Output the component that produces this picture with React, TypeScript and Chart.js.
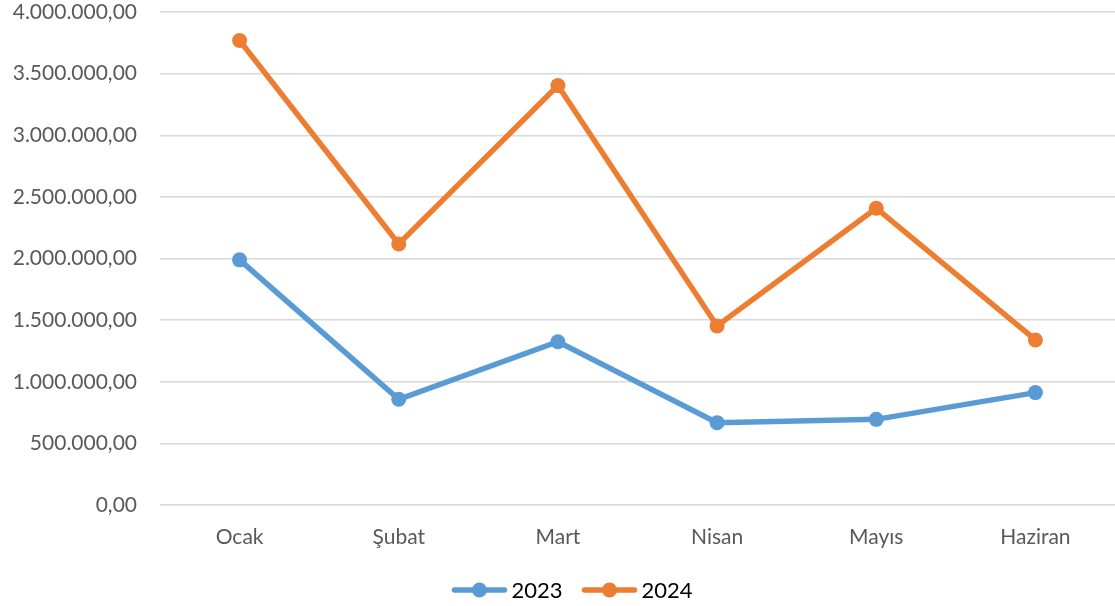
import React, { useEffect, useRef } from "react";
import { Chart, registerables } from "chart.js";

Chart.register(...registerables);

const categories = ["Ocak", "Şubat", "Mart", "Nisan", "Mayıs", "Haziran"];
const series2023 = [1989000, 858000, 1325000, 668000, 695000, 912000];
const series2024 = [3769000, 2118000, 3403000, 1453000, 2408000, 1339000];
const seriesNames = ["2023", "2024"];
const colors = ["#5B9BD5", "#ED7D31"];

function formatTR(v: number): string {
  const neg = v < 0;
  const abs = Math.abs(v);
  const intPart = Math.floor(abs);
  const dec = Math.round((abs - intPart) * 100);
  const s = String(intPart).replace(/\B(?=(\d{3})+(?!\d))/g, ".");
  return (neg ? "-" : "") + s + "," + String(dec).padStart(2, "0");
}

const customLegend = {
  id: "customLegend",
  afterDraw(chart: any) {
    const ctx = chart.ctx;
    const ds = chart.data.datasets;
    ctx.save();
    ctx.font = "22px Lato";
    const iconW = 56;
    const gapIconText = 4;
    const gapItems = 19;
    const widths = ds.map((d: any) => ctx.measureText(d.label).width);
    let total = 0;
    widths.forEach((w: number, i: number) => {
      total += iconW + gapIconText + w + (i < widths.length - 1 ? gapItems : 0);
    });
    const centerX = 572;
    const y = 590;
    let x = centerX - total / 2;
    ds.forEach((d: any, i: number) => {
      const c = d.borderColor;
      ctx.strokeStyle = c;
      ctx.lineWidth = 5.5;
      ctx.lineCap = "round";
      ctx.beginPath();
      ctx.moveTo(x + 3, y);
      ctx.lineTo(x + iconW - 3, y);
      ctx.stroke();
      ctx.fillStyle = c;
      ctx.beginPath();
      ctx.arc(x + iconW / 2, y, 7.5, 0, Math.PI * 2);
      ctx.fill();
      ctx.fillStyle = "#000000";
      ctx.textBaseline = "middle";
      ctx.textAlign = "left";
      ctx.fillText(d.label, x + iconW + gapIconText, y + 1);
      x += iconW + gapIconText + widths[i] + gapItems;
    });
    ctx.restore();
  },
};

export default function App() {
  const ref = useRef<HTMLCanvasElement | null>(null);

  useEffect(() => {
    document.body.style.margin = "0";
    if (!ref.current) return;
    const chart = new Chart(ref.current, {
      type: "line",
      data: {
        labels: categories,
        datasets: [series2023, series2024].map((d, i) => ({
          label: seriesNames[i],
          data: d,
          borderColor: colors[i],
          backgroundColor: colors[i],
          borderWidth: 5.5,
          pointRadius: 7.5,
          pointBorderWidth: 0,
          pointBackgroundColor: colors[i],
          tension: 0,
          clip: false,
        })),
      },
      options: {
        animation: false,
        responsive: false,
        layout: { autoPadding: false, padding: { top: 12, left: 0, right: 0, bottom: 51 } },
        plugins: {
          tooltip: { enabled: false },
          legend: { display: false },
        },
        scales: {
          x: {
            offset: true,
            grid: { display: false, drawTicks: false },
            border: { display: false },
            ticks: {
              color: "#595959",
              font: { family: "Lato", size: 21 },
              padding: 20,
              maxRotation: 0,
            },
            afterFit: (s: any) => {
              s.height = 50;
              s.paddingLeft = 0;
              s.paddingRight = 0;
            },
          },
          y: {
            min: 0,
            max: 4000000,
            border: { display: false },
            grid: { color: "#D9D9D9", lineWidth: 1.5, drawTicks: false },
            ticks: {
              stepSize: 500000,
              color: "#595959",
              font: { family: "Lato", size: 21 },
              padding: 23,
              callback: (v: any) => formatTR(Number(v)),
            },
            afterFit: (s: any) => {
              s.width = 160;
              s.paddingTop = 0;
              s.paddingBottom = 0;
            },
          },
        },
      },
      plugins: [customLegend],
    });
    return () => chart.destroy();
  }, []);

  return (
    <div style={{ position: "absolute", left: 0, top: 0, width: 1115, height: 606 }}>
      <canvas ref={ref} width={1115} height={606} />
    </div>
  );
}
